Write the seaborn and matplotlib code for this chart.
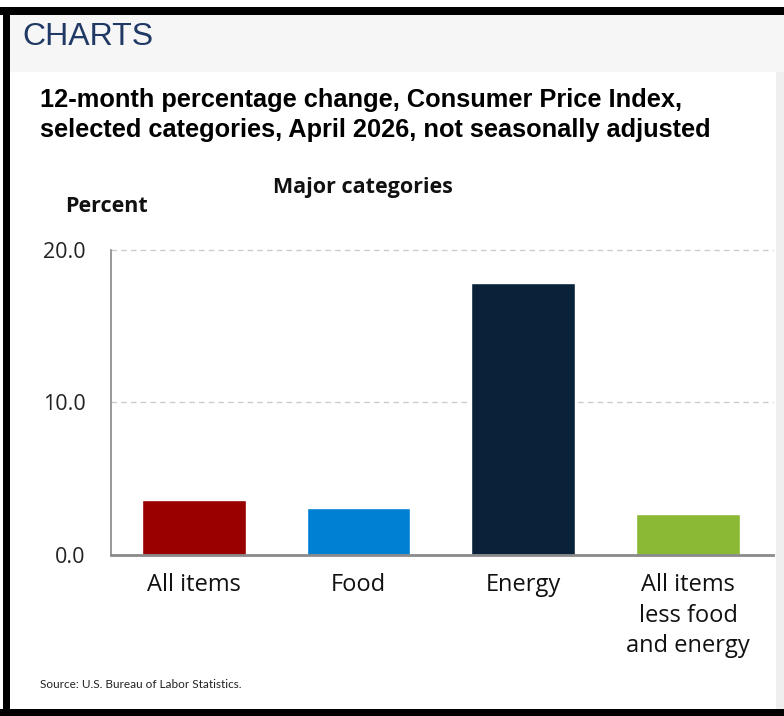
import matplotlib
matplotlib.use("Agg")
import matplotlib.pyplot as plt
from matplotlib.patches import Rectangle
import seaborn as sns
import pandas as pd

categories = ["All items", "Food", "Energy", "All items\nless food\nand energy"]
values = [3.6, 3.1, 17.8, 2.7]
colors = ["#990000", "#0080d2", "#0a2239", "#8cb935"]
yticks = [0.0, 10.0, 20.0]
ytick_labels = ["0.0", "10.0", "20.0"]

sns.set_theme(style="white")
plt.rcParams["font.family"] = ["Open Sans", "DejaVu Sans"]

W, H = 784, 716
fig = plt.figure(figsize=(W / 100, H / 100), dpi=100)
fig.patch.set_facecolor("white")

def fx(px):
    return px / W

def fy(py):
    return 1 - py / H

# Header band and border
fig.add_artist(Rectangle((fx(10), fy(72)), fx(774), 58 / H, transform=fig.transFigure,
                         facecolor="#f6f6f6", edgecolor="none", zorder=0))
fig.add_artist(Rectangle((fx(776), 0), fx(8), fy(72), transform=fig.transFigure,
                         facecolor="#efefef", edgecolor="none", zorder=0))
fig.add_artist(Rectangle((0, fy(15)), 1, 8 / H, transform=fig.transFigure,
                         facecolor="black", edgecolor="none", zorder=1))
fig.add_artist(Rectangle((fx(3), 0), fx(7), fy(7), transform=fig.transFigure,
                         facecolor="black", edgecolor="none", zorder=1))
fig.add_artist(Rectangle((0, 0), 1, 7 / H, transform=fig.transFigure,
                         facecolor="black", edgecolor="none", zorder=1))

fig.text(fx(22), fy(37), "CHARTS", fontsize=23, color="#1f3864",
         family=["Liberation Sans", "DejaVu Sans"], va="center", ha="left")

fig.text(fx(40), fy(100), "12-month percentage change, Consumer Price Index,",
         fontsize=18.3, fontweight="bold", color="black",
         family=["Liberation Sans", "DejaVu Sans"], va="center", ha="left")
fig.text(fx(40), fy(130), "selected categories, April 2026, not seasonally adjusted",
         fontsize=18.3, fontweight="bold", color="black",
         family=["Liberation Sans", "DejaVu Sans"], va="center", ha="left")

fig.text(fx(363), fy(188), "Major categories", fontsize=15.5, fontweight="bold",
         color="#111111", va="center", ha="center")
fig.text(fx(65), fy(207), "Percent", fontsize=15.5, fontweight="bold",
         color="#111111", va="center", ha="left")

fig.text(fx(40), fy(685), "Source: U.S. Bureau of Labor Statistics.", fontsize=8.5,
         color="#222222", family=["Lato", "DejaVu Sans"], va="center", ha="left")

ax = fig.add_axes([fx(110.7), fy(555), fx(773 - 110.7), (555 - 249.6) / H])
df = pd.DataFrame({"category": categories, "value": values})
sns.barplot(data=df, x="category", y="value", hue="category", palette=colors,
            legend=False, width=0.63, saturation=1, ax=ax, zorder=2)

ax.set_xlim(-0.504, 3.516)
ax.set_ylim(0, 20)
ax.set_yticks(yticks)
ax.set_yticklabels(ytick_labels)
ax.set_xlabel("")
ax.set_ylabel("")
ax.set_facecolor("white")
for y in yticks[1:]:
    ax.axhline(y, color="#cccccc", linestyle=(0, (4, 3)), linewidth=1, zorder=1, clip_on=False)
for s in ["top", "right"]:
    ax.spines[s].set_visible(False)
ax.spines["left"].set_color("#888888")
ax.spines["left"].set_linewidth(1.2)
ax.spines["bottom"].set_color("#8a8a8a")
ax.spines["bottom"].set_linewidth(2)
ax.tick_params(axis="y", length=0, pad=18, labelsize=15.5, labelcolor="#222222")
ax.tick_params(axis="x", length=0, pad=13, labelsize=17, labelcolor="#111111")
for lab in ax.get_xticklabels():
    lab.set_linespacing(1.36)

fig.savefig("out.png", dpi=100)
